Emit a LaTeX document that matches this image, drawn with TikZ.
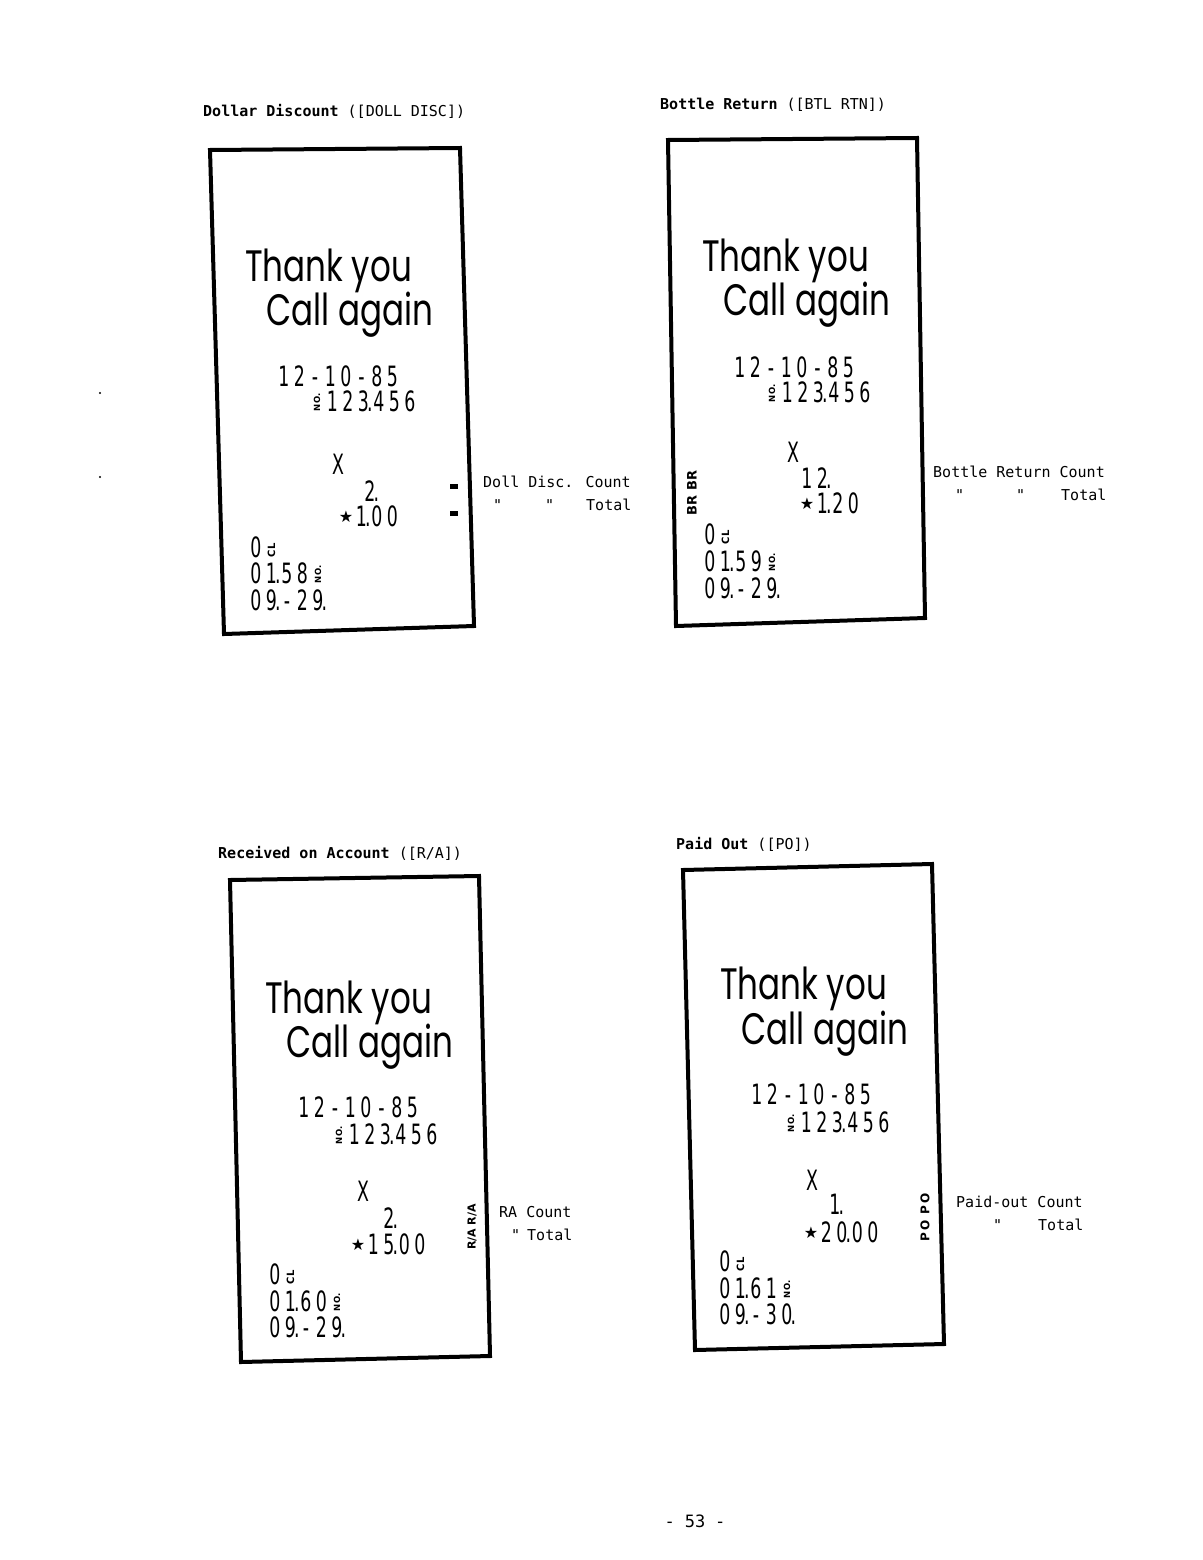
\documentclass[tikz,border=0pt]{standalone}
\usepackage{fontspec}
\usepackage{graphicx}
\setmonofont{DejaVu Sans Mono}
\newfontfamily\thankfont[FakeStretch=0.74]{Poppins}
\newfontfamily\digfont[FakeStretch=0.62]{DejaVu Sans}
\newfontfamily\stampfont{DejaVu Sans}
\newfontfamily\labfont{DejaVu Sans Mono}
\newdimen\cw \cw=15.5pt
\makeatletter
\def\cells#1{\cells@a#1\relax}
\def\cells@a#1{\ifx\relax#1\else\cells@one{#1}\expandafter\cells@a\fi}
\def\cells@one#1{\ifx.#1\rlap{\kern-4pt.}\else\makebox[\cw]{#1}\fi}
\makeatother
\newcommand\rcno{\rotatebox{90}{\stampfont\bfseries\fontsize{8.5}{8.5}\selectfont NO.}}
\newcommand\rccl{\rotatebox{90}{\stampfont\bfseries\fontsize{10}{10}\selectfont CL}}
\newcommand\rcstar{\raisebox{4pt}{\stampfont\fontsize{16}{16}\selectfont ★}}
\tikzset{
  receipt/.style={draw, line width=4pt, line join=miter},
  thank/.style={anchor=base west, inner sep=0pt, font=\thankfont\fontsize{44}{44}\selectfont},
  rtext/.style={anchor=base west, inner sep=0pt, font=\digfont\fontsize{28}{28}\selectfont},
  lab/.style={anchor=base west, inner sep=0pt, font=\labfont\fontsize{15}{15}\selectfont},
  title/.style={anchor=base west, inner sep=0pt, font=\ttfamily\fontsize{15}{15}\selectfont},
  stamp/.style={rotate=90, inner sep=0pt, font=\stampfont\bfseries\fontsize{13}{13}\selectfont},
}
\begin{document}
\begin{tikzpicture}[x=1pt,y=-1pt]
\useasboundingbox (0,0) rectangle (1202,1560);
\fill[white] (0,0) rectangle (1202,1560);

% ---------- Titles ----------
\node[title] (t1) at (203,117) {\bfseries Dollar Discount\mdseries{} ([DOLL DISC])};
\node[title] (t2) at (660,110) {\bfseries Bottle Return\mdseries{} ([BTL RTN])};
\node[title] (t3) at (218,858) {\bfseries Received on Account\mdseries{} ([R/A])};
\node[title] (t4) at (676,849) {\bfseries Paid Out\mdseries{} ([PO])};

% ---------- Receipt 1 ----------
\draw[receipt] (210,150) -- (460,148) -- (474,626) -- (224,634) -- cycle;
\node[thank] (r1a) at (245,281) {Thank you};
\node[thank] (r1b) at (266,325) {Call again};
\node[rtext] (r1c) at (276,386) {\cells{12-10-85}};
\node[rtext] (r1d) at (309,411) {\cells{{\rcno}123.456}};
\node[rtext] (r1e) at (330,474) {\cells{X}};
\node[rtext] (r1f) at (362,501) {\cells{2.}};
\node[rtext] (r1g) at (338,526) {\cells{{\rcstar}1.00}};
\node[rtext] (r1h) at (248,557) {\cells{0{\rccl}}};
\node[rtext] (r1i) at (248,583) {\cells{01.58{\rcno}}};
\node[rtext] (r1j) at (248,610) {\cells{09.-29.}};
\fill (450,484) rectangle (458,489);
\fill (450,511) rectangle (458,516);
\node[lab] (l1a) at (483,487) {Doll Disc. Count};
\node[lab] (l1b) at (493,510) {"};
\node[lab] (l1c) at (545,510) {"};
\node[lab] (l1d) at (586,510) {Total};

% ---------- Receipt 2 ----------
\draw[receipt] (668,140) -- (917,138) -- (925,618) -- (676,626) -- cycle;
\node[thank] (r2a) at (702,271) {Thank you};
\node[thank] (r2b) at (723,315) {Call again};
\node[rtext] (r2c) at (732,377) {\cells{12-10-85}};
\node[rtext] (r2d) at (764,402) {\cells{{\rcno}123.456}};
\node[rtext] (r2e) at (785,462) {\cells{X}};
\node[rtext] (r2f) at (799,488) {\cells{12.}};
\node[rtext] (r2g) at (799,513) {\cells{{\rcstar}1.20}};
\node[rtext] (r2h) at (702,544) {\cells{0{\rccl}}};
\node[rtext] (r2i) at (702,571) {\cells{01.59{\rcno}}};
\node[rtext] (r2j) at (702,598) {\cells{09.-29.}};
\node[stamp] (s2) at (692,493) {BR BR};
\node[lab] (l2a) at (933,477) {Bottle Return Count};
\node[lab] (l2b) at (955,500) {"};
\node[lab] (l2c) at (1016,500) {"};
\node[lab] (l2d) at (1061,500) {Total};

% ---------- Receipt 3 ----------
\draw[receipt] (230,880) -- (479,876) -- (490,1356) -- (241,1362) -- cycle;
\node[thank] (r3a) at (265,1013) {Thank you};
\node[thank] (r3b) at (286,1057) {Call again};
\node[rtext] (r3c) at (296,1117) {\cells{12-10-85}};
\node[rtext] (r3d) at (331,1144) {\cells{{\rcno}123.456}};
\node[rtext] (r3e) at (355,1201) {\cells{X}};
\node[rtext] (r3f) at (381,1228) {\cells{2.}};
\node[rtext] (r3g) at (350,1254) {\cells{{\rcstar}15.00}};
\node[rtext] (r3h) at (267,1284) {\cells{0{\rccl}}};
\node[rtext] (r3i) at (267,1311) {\cells{01.60{\rcno}}};
\node[rtext] (r3j) at (267,1337) {\cells{09.-29.}};
\node[stamp, font=\stampfont\bfseries\fontsize{11}{11}\selectfont] (s3) at (472,1227) {R/A R/A};
\node[lab] (l3a) at (499,1217) {RA Count};
\node[lab] (l3b) at (511,1240) {"};
\node[lab] (l3c) at (527,1240) {Total};

% ---------- Receipt 4 ----------
\draw[receipt] (683,870) -- (932,864) -- (944,1344) -- (695,1350) -- cycle;
\node[thank] (r4a) at (720,999) {Thank you};
\node[thank] (r4b) at (741,1044) {Call again};
\node[rtext] (r4c) at (749,1104) {\cells{12-10-85}};
\node[rtext] (r4d) at (783,1132) {\cells{{\rcno}123.456}};
\node[rtext] (r4e) at (804,1190) {\cells{X}};
\node[rtext] (r4f) at (827,1214) {\cells{1.}};
\node[rtext] (r4g) at (803,1242) {\cells{{\rcstar}20.00}};
\node[rtext] (r4h) at (717,1271) {\cells{0{\rccl}}};
\node[rtext] (r4i) at (717,1298) {\cells{01.61{\rcno}}};
\node[rtext] (r4j) at (717,1324) {\cells{09.-30.}};
\node[stamp, font=\stampfont\bfseries\fontsize{12}{12}\selectfont] (s4) at (925,1217) {P\,O\enspace P\,O};
\node[lab] (l4a) at (956,1207) {Paid-out Count};
\node[lab] (l4b) at (993,1230) {"};
\node[lab] (l4c) at (1038,1230) {Total};

% ---------- page number and specks ----------
\node[lab, anchor=base, font=\labfont\fontsize{17}{17}\selectfont] (pg) at (695,1527) {-\hspace{10pt}53\hspace{10pt}-};
\fill (100,393) circle (1.2pt);
\fill (100,477) circle (1.2pt);
\end{tikzpicture}
\end{document}
